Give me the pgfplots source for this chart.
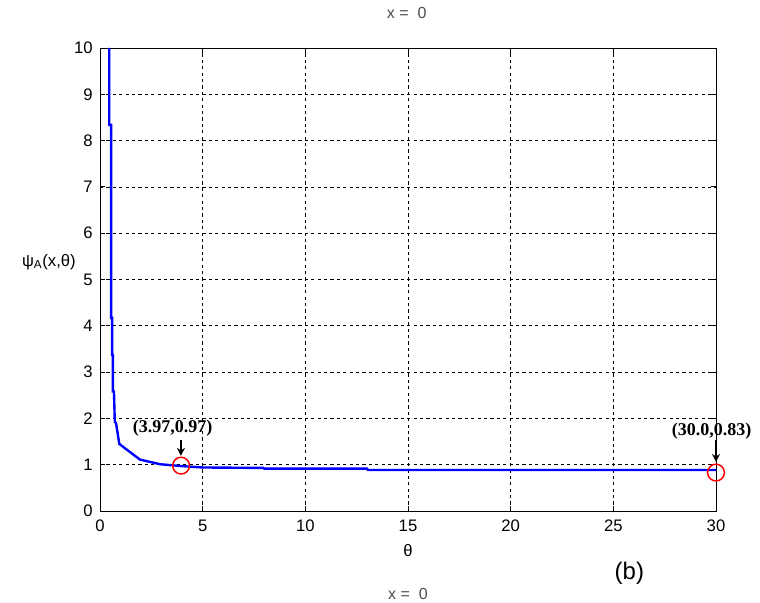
\documentclass[border=0pt]{standalone}
\usepackage{pgfplots}
\pgfplotsset{compat=1.18}
\usetikzlibrary{arrows.meta}
\usepackage{fontspec}
\setmainfont{Liberation Sans}
\newfontfamily\serifb{Liberation Serif}
\begin{document}
\begin{tikzpicture}
\useasboundingbox (0,0) rectangle (570pt,452.25pt);
\begin{axis}[
  at={(75pt,69pt)}, anchor=south west,
  width=462pt, height=347.25pt, scale only axis,
  clip mode=individual,
  xmin=0, xmax=30, ymin=0, ymax=10,
  xtick={0,5,...,30}, ytick={0,1,...,10},
  grid=major,
  major grid style={black, line width=0.55pt, dash pattern=on 2.4pt off 2.4pt},
  tick align=inside, tick pos=both,
  major tick length=4pt,
  tick style={black, line width=0.6pt},
  axis line style={line width=0.7pt},
  /pgf/number format/assume math mode=true,
  ticklabel style={font=\fontsize{12.5}{14}\selectfont},
  xticklabel style={yshift=-3pt},
  yticklabel style={xshift=-2pt},
  xlabel={θ},
  xlabel style={at={(axis description cs:0.5,-0.086)}, anchor=center, font=\fontsize{12.5}{14}\selectfont},
  ylabel={ψ\textsubscript{A}(x,θ)},
  ylabel style={rotate=-90, at={(axis description cs:-0.083,0.538)}, anchor=center, font=\fontsize{12.5}{14}\selectfont},
]
\addplot[blue, line width=1.8pt] coordinates {
(0.45,10) (0.45,8.34) (0.54,8.34) (0.54,4.17) (0.59,4.17) (0.59,3.37) (0.63,3.37)
(0.63,2.58) (0.68,2.58) (0.72,1.93) (0.78,1.9) (0.94,1.45) (1.2,1.36) (1.47,1.27)
(1.95,1.11) (2.93,1.01) (3.97,0.97) (5,0.94) (7.95,0.93) (8,0.915) (13,0.915)
(13.05,0.885) (30,0.885)
};
\addplot[only marks, mark=o, red, mark size=6.3pt, line width=1.1pt] coordinates {(3.95,0.98) (30,0.83)};
\draw[line width=1pt, -{Stealth[length=6pt,width=6pt]}] (axis cs:3.94,1.53) -- (axis cs:3.94,1.19);
\draw[line width=1pt, -{Stealth[length=6pt,width=6pt]}] (axis cs:30,1.53) -- (axis cs:30,1.06);
\node[font=\serifb\bfseries\fontsize{13.5}{15}\selectfont] at (axis cs:3.54,1.79) {(3.97,0.97)};
\node[font=\serifb\bfseries\fontsize{13.5}{15}\selectfont] at (axis cs:29.79,1.73) {(30.0,0.83)};
\end{axis}
\node[font=\fontsize{12}{14}\selectfont, text=black!70] at (305pt,442.5pt) {x =\ \ 0};
\node[font=\fontsize{12}{14}\selectfont, text=black!70] at (306pt,6.75pt) {x =\ \ 0};
\node[font=\fontsize{18}{21}\selectfont] at (472pt,22.5pt) {(b)};
\end{tikzpicture}
\end{document}
